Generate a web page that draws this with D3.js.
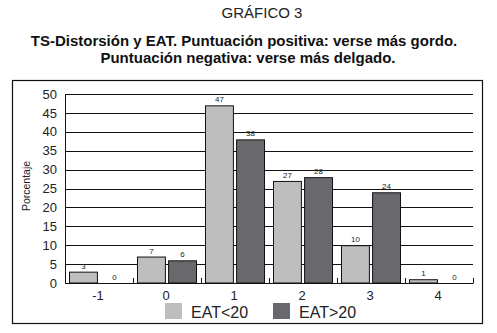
<!DOCTYPE html>
<html>
<head>
<meta charset="utf-8">
<script src="https://cdn.jsdelivr.net/npm/d3@7/dist/d3.min.js"></script>
<style>
  html, body { margin: 0; padding: 0; background: #fff; }
  svg { display: block; font-family: "Liberation Sans", Arial, Helvetica, sans-serif; }
</style>
</head>
<body>
<svg id="chart" width="497" height="333"></svg>
<script>
// Distortion score categories and percentage per EAT group
const categories = ["-1", "0", "1", "2", "3", "4"];
const seriesNames = ["EAT<20", "EAT>20"];
const eatBelow20 = [3, 7, 47, 27, 10, 1];
const eatAbove20 = [0, 6, 38, 28, 24, 0];
const yTicks = [0, 5, 10, 15, 20, 25, 30, 35, 40, 45, 50];
const colors = ["#bebebf", "#69696d"];

const svg = d3.select("#chart");

// Titles
svg.append("text").attr("x", 262).attr("y", 18).attr("text-anchor", "middle")
  .attr("font-size", 15).attr("fill", "#222").text("GRÁFICO 3");
svg.append("text").attr("x", 244).attr("y", 46).attr("text-anchor", "middle")
  .attr("font-size", 15).attr("font-weight", "bold").attr("fill", "#111")
  .text("TS-Distorsión y EAT. Puntuación positiva: verse más gordo.");
svg.append("text").attr("x", 248).attr("y", 63).attr("text-anchor", "middle")
  .attr("font-size", 15).attr("font-weight", "bold").attr("fill", "#111")
  .text("Puntuación negativa: verse más delgado.");

// Outer frame
svg.append("rect").attr("x", 12.5).attr("y", 80.5).attr("width", 470).attr("height", 243)
  .attr("fill", "none").attr("stroke", "#111").attr("stroke-width", 1.2);

const plot = { left: 65, right: 473, top: 94, bottom: 283 };

const x0 = d3.scaleBand().domain(categories).range([plot.left, plot.right]).padding(0);
const x1 = d3.scaleBand().domain(seriesNames)
  .range([4, x0.bandwidth() - 4]).paddingInner(0.07).paddingOuter(0);
const y = d3.scaleLinear().domain([0, 50]).range([plot.bottom, plot.top]);

const g = svg.append("g");

// Horizontal gridlines
g.selectAll("line.grid").data(yTicks.filter(d => d > 0)).join("line")
  .attr("class", "grid")
  .attr("x1", plot.left).attr("x2", plot.right)
  .attr("y1", d => Math.round(y(d)) + 0.5).attr("y2", d => Math.round(y(d)) + 0.5)
  .attr("stroke", "#111").attr("stroke-width", 1);

// Y axis labels
const yAxis = d3.axisLeft(y).tickValues(yTicks).tickSize(0).tickPadding(8);
const yg = svg.append("g").attr("transform", `translate(${plot.left},0)`).call(yAxis);
yg.select(".domain").remove();
yg.selectAll("text").attr("font-size", 13).attr("fill", "#222")
  .attr("font-family", "Liberation Sans, Arial, sans-serif");

// Y axis title
svg.append("text")
  .attr("transform", "translate(30,186) rotate(-90)")
  .attr("text-anchor", "middle").attr("font-size", 10.5).attr("fill", "#222")
  .text("Porcentaje");

// Bars
const rows = categories.map((c, i) => ({ cat: c, vals: [eatBelow20[i], eatAbove20[i]] }));
const groups = g.selectAll("g.cat").data(rows).join("g")
  .attr("class", "cat")
  .attr("transform", d => `translate(${x0(d.cat)},0)`);

groups.selectAll("rect").data(d => d.vals.map((v, k) => ({ v, k })).filter(e => e.v > 0)).join("rect")
  .attr("x", e => x1(seriesNames[e.k]) + 0.5)
  .attr("y", e => y(e.v) + 0.5)
  .attr("width", x1.bandwidth() - 1)
  .attr("height", e => y(0) - y(e.v) - 0.5)
  .attr("fill", e => colors[e.k])
  .attr("stroke", "#111").attr("stroke-width", 1);

groups.selectAll("text").data(d => d.vals.map((v, k) => ({ v, k }))).join("text")
  .attr("x", e => x1(seriesNames[e.k]) + x1.bandwidth() / 2)
  .attr("y", e => y(e.v) - 3)
  .attr("text-anchor", "middle").attr("font-size", 8).attr("fill", "#222")
  .text(e => e.v);

// Axis lines
svg.append("line").attr("x1", plot.left + 0.5).attr("x2", plot.left + 0.5)
  .attr("y1", plot.top).attr("y2", plot.bottom + 0.5).attr("stroke", "#111");
svg.append("line").attr("x1", plot.left).attr("x2", plot.right + 0.5)
  .attr("y1", plot.bottom + 0.5).attr("y2", plot.bottom + 0.5).attr("stroke", "#111");

// Category boundary ticks (pointing up from the baseline)
const bounds = categories.map(c => x0(c)).slice(1).concat([plot.right]);
svg.selectAll("line.xtick").data(bounds).join("line")
  .attr("class", "xtick")
  .attr("x1", d => Math.round(d) + 0.5).attr("x2", d => Math.round(d) + 0.5)
  .attr("y1", plot.bottom).attr("y2", plot.bottom - 5)
  .attr("stroke", "#111");

// X labels
svg.selectAll("text.xlab").data(categories).join("text")
  .attr("class", "xlab")
  .attr("x", d => x0(d) + x0.bandwidth() / 2 - 1)
  .attr("y", 300)
  .attr("text-anchor", "middle").attr("font-size", 13).attr("fill", "#222")
  .text(d => d);

// Legend
const legend = svg.append("g");
const legendX = [165, 273];
seriesNames.forEach((name, k) => {
  legend.append("rect").attr("x", legendX[k]).attr("y", 303).attr("width", 17).attr("height", 16)
    .attr("fill", colors[k]);
  legend.append("text").attr("x", legendX[k] + 26).attr("y", 318)
    .attr("font-size", 16).attr("fill", "#222").text(name);
});
</script>
</body>
</html>
